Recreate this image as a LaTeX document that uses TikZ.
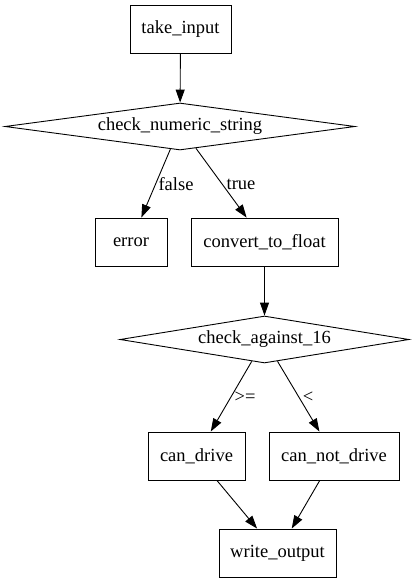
\documentclass[tikz,border=0pt]{standalone}
\usepackage{fontspec}
\setmainfont{Liberation Serif}
\usetikzlibrary{shapes.geometric,arrows.meta}
\tikzset{
  box/.style={draw, rectangle, line width=0.9pt, minimum height=48pt, inner sep=0pt, font=\fontsize{18.5}{20}\selectfont},
  decision/.style={draw, diamond, line width=0.9pt, inner sep=0pt, shape aspect=7, font=\fontsize{18.5}{20}\selectfont},
  edge/.style={line width=0.9pt, -{Triangle[length=13pt,width=9pt]}},
  elabel/.style={font=\fontsize{18.5}{20}\selectfont, inner sep=0pt}
}
\begin{document}
\begin{tikzpicture}[x=1pt,y=-1pt]
\useasboundingbox (0,0) rectangle (415,583);
\node[box, minimum width=101pt] (take) at (180.5,29) {take\_input};
\node[decision, minimum width=350pt, minimum height=47pt] (cns) at (180,126.5) {check\_numeric\_string};
\node[box, minimum width=72pt] (error) at (131,242) {error};
\node[box, minimum width=147pt] (conv) at (264.5,242) {convert\_to\_float};
\node[decision, minimum width=289pt, minimum height=47pt] (ca) at (264.5,339.5) {check\_against\_16};
\node[box, minimum width=97pt] (cd) at (196.5,456) {can\_drive};
\node[box, minimum width=130pt] (cnd) at (334,456) {can\_not\_drive};
\node[box, minimum width=117pt] (wo) at (277.5,553) {write\_output};
\node[elabel] (lf) at (176,184) {false};
\node[elabel] (lt) at (241,184) {true};
\node[elabel] (lge) at (245,397) {>=};
\node[elabel] (llt) at (308,397) {<};
\draw[edge] (take) -- (cns);
\draw[edge] (cns) -- (error);
\draw[edge] (cns) -- (conv);
\draw[edge] (conv) -- (ca);
\draw[edge] (ca) -- (cd);
\draw[edge] (ca) -- (cnd);
\draw[edge] (cd) -- (wo);
\draw[edge] (cnd) -- (wo);
\end{tikzpicture}
\end{document}
